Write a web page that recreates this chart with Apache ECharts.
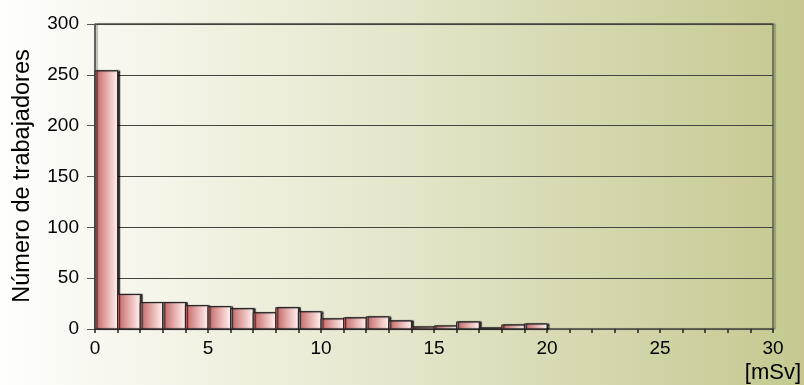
<!DOCTYPE html>
<html>
<head>
<meta charset="utf-8">
<script src="https://cdn.jsdelivr.net/npm/echarts@6/dist/echarts.min.js"></script>
<style>
  html, body { margin: 0; padding: 0; }
  #chart {
    width: 804px; height: 385px;
    background: linear-gradient(to right, #fefefc 0%, #e8e8d0 45%, #c6c890 100%);
  }
</style>
</head>
<body>
<div id="chart"></div>
<script>
// Dose bins (lower edge, mSv) and number of workers in each 1 mSv bin
const binStarts = [0, 1, 2, 3, 4, 5, 6, 7, 8, 9, 10, 11, 12, 13, 14, 15, 16, 17, 18, 19];
const workers   = [254, 34, 26, 26, 23, 22, 20, 16, 21, 17, 10, 11, 12, 8, 2, 3, 7, 1, 4, 5];
const binWidth = 1;

const xRange = { min: 0, max: 30, interval: 5 };
const yRange = { min: 0, max: 300, interval: 50 };

const yTitle = 'Número de trabajadores';
const xUnit = '[mSv]';

const fontFamily = '"Liberation Sans", Arial, sans-serif';

const chart = echarts.init(document.getElementById('chart'), null, { renderer: 'canvas' });

const barFill = new echarts.graphic.LinearGradient(0, 0, 1, 0, [
  { offset: 0, color: '#bf5f5f' },
  { offset: 0.55, color: '#e6b3b1' },
  { offset: 1, color: '#fff4f2' }
]);

chart.setOption({
  backgroundColor: 'transparent',
  animation: false,
  grid: {
    left: 95, right: 31, top: 24, bottom: 56,
    show: true,
    borderColor: '#222',
    borderWidth: 1,
    backgroundColor: 'transparent',
    shadowColor: 'rgba(40,40,30,0.55)',
    shadowOffsetX: 2,
    shadowBlur: 1
  },
  xAxis: {
    type: 'value',
    min: xRange.min, max: xRange.max, interval: xRange.interval,
    axisLine: { show: true, lineStyle: { color: '#555', width: 1 } },
    axisTick: { show: true, length: 4, lineStyle: { color: '#222', width: 1.5 } },
    minorTick: { show: true, splitNumber: 5, length: 4, lineStyle: { color: '#222', width: 1.5 } },
    splitLine: { show: false },
    axisLabel: { fontSize: 19, color: '#000', margin: 10, fontFamily: fontFamily }
  },
  yAxis: {
    type: 'value',
    min: yRange.min, max: yRange.max, interval: yRange.interval,
    axisLine: { show: true, lineStyle: { color: '#555', width: 1.5 } },
    axisTick: { show: true, length: 8, lineStyle: { color: '#555', width: 1 } },
    splitLine: { show: true, lineStyle: { color: '#44443e', width: 1 } },
    axisLabel: { fontSize: 19, color: '#000', margin: 16, fontFamily: fontFamily }
  },
  graphic: [
    {
      type: 'text',
      x: 23, y: 176,
      rotation: Math.PI / 2,
      style: {
        text: yTitle,
        fontSize: 23.5,
        fontFamily: fontFamily,
        fill: '#000',
        align: 'center',
        verticalAlign: 'middle'
      }
    },
    {
      type: 'text',
      x: 801, y: 373,
      style: {
        text: xUnit,
        fontSize: 22,
        fontFamily: fontFamily,
        fill: '#000',
        align: 'right',
        verticalAlign: 'middle'
      }
    }
  ],
  series: [{
    type: 'custom',
    data: binStarts.map((b, i) => [b, workers[i]]),
    encode: { x: 0, y: 1 },
    renderItem: function (params, api) {
      const start = api.value(0);
      const val = api.value(1);
      const p0 = api.coord([start, 0]);
      const p1 = api.coord([start + binWidth, val]);
      return {
        type: 'rect',
        shape: { x: p0[0], y: p1[1], width: p1[0] - p0[0], height: p0[1] - p1[1] },
        style: {
          fill: barFill,
          stroke: '#222',
          lineWidth: 1,
          shadowColor: 'rgba(0,0,0,0.8)',
          shadowOffsetX: 2,
          shadowBlur: 1
        }
      };
    }
  }]
});
</script>
</body>
</html>
